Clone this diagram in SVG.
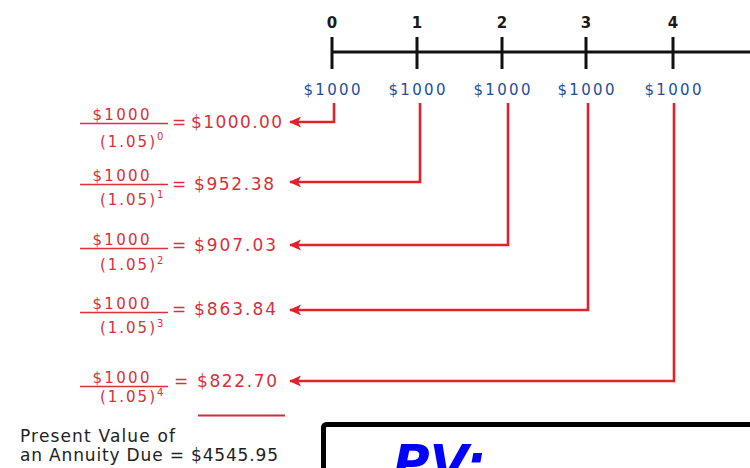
<svg xmlns="http://www.w3.org/2000/svg" width="750" height="468" viewBox="0 0 750 468">
<defs>
<marker id="ah" markerWidth="12" markerHeight="12" refX="11" refY="6" orient="auto" markerUnits="userSpaceOnUse" viewBox="0 0 12 12">
<path d="M12,6 L0,0.5 L3,6 L0,11.5 Z" fill="#e3212b"/>
</marker>
<style>
text{font-family:"DejaVu Sans","Verdana",sans-serif}
.tl{font-size:15px;font-weight:bold;fill:#1a1a1a;text-anchor:middle}
.amt{font-size:15px;fill:#1f4e9c;text-anchor:middle}
.red{fill:#d9303a}
.num{font-size:15px;text-anchor:middle}
.den{font-size:15px}
.sup{font-size:10px}
.val{font-size:17px}
.blk{font-size:17px;fill:#222}
.bar{stroke:#d9303a;stroke-width:1.3}
.conn{fill:none;stroke:#e3212b;stroke-width:2.6;marker-end:url(#ah)}
</style>
</defs>
<rect width="750" height="468" fill="#ffffff"/>
<g id="timeline">
<line x1="331" y1="52" x2="750" y2="52" stroke="#111" stroke-width="3"/>
<g stroke="#111" stroke-width="3">
<line x1="332" y1="37" x2="332" y2="69"/>
<line x1="417" y1="37" x2="417" y2="69"/>
<line x1="502" y1="37" x2="502" y2="69"/>
<line x1="586" y1="37" x2="586" y2="69"/>
<line x1="673" y1="37" x2="673" y2="69"/>
</g>
<text class="tl" x="332" y="28">0</text>
<text class="tl" x="417" y="28">1</text>
<text class="tl" x="502" y="28">2</text>
<text class="tl" x="586" y="28">3</text>
<text class="tl" x="673" y="28">4</text>
<text class="amt" x="332" y="95" textLength="57">$1000</text>
<text class="amt" x="417" y="95" textLength="57">$1000</text>
<text class="amt" x="502" y="95" textLength="57">$1000</text>
<text class="amt" x="586" y="95" textLength="57">$1000</text>
<text class="amt" x="673" y="95" textLength="57">$1000</text>
</g>
<g id="connectors">
<path class="conn" d="M334,103 V122 H290"/>
<path class="conn" d="M420,103 V182 H290"/>
<path class="conn" d="M508,103 V245 H290"/>
<path class="conn" d="M588,103 V310 H290"/>
<path class="conn" d="M674,103 V381 H290"/>
</g>
<g id="row0">
<text class="num red" x="121" y="120" textLength="57">$1000</text>
<line class="bar" x1="80" y1="123.5" x2="168" y2="123.5"/>
<text class="den red" x="100" y="147" textLength="55">(1.05)</text>
<text class="sup red" x="157" y="140">0</text>
<text class="val red" x="172" y="128">=</text>
<text class="val red" x="191" y="128" textLength="91">$1000.00</text>
</g>
<g id="row1">
<text class="num red" x="121" y="181" textLength="57">$1000</text>
<line class="bar" x1="80" y1="184.5" x2="168" y2="184.5"/>
<text class="den red" x="100" y="205" textLength="55">(1.05)</text>
<text class="sup red" x="157" y="198">1</text>
<text class="val red" x="172" y="190">=</text>
<text class="val red" x="194" y="190" textLength="80">$952.38</text>
</g>
<g id="row2">
<text class="num red" x="121" y="245" textLength="57">$1000</text>
<line class="bar" x1="80" y1="248.5" x2="168" y2="248.5"/>
<text class="den red" x="100" y="270" textLength="55">(1.05)</text>
<text class="sup red" x="157" y="264">2</text>
<text class="val red" x="172" y="251">=</text>
<text class="val red" x="194" y="251" textLength="82">$907.03</text>
</g>
<g id="row3">
<text class="num red" x="121" y="309" textLength="57">$1000</text>
<line class="bar" x1="80" y1="312.5" x2="168" y2="312.5"/>
<text class="den red" x="100" y="333" textLength="55">(1.05)</text>
<text class="sup red" x="157" y="327">3</text>
<text class="val red" x="172" y="315">=</text>
<text class="val red" x="194" y="315" textLength="82">$863.84</text>
</g>
<g id="row4">
<text class="num red" x="121" y="383" textLength="57">$1000</text>
<line class="bar" x1="80" y1="386.5" x2="168" y2="386.5"/>
<text class="den red" x="100" y="402" textLength="55">(1.05)</text>
<text class="sup red" x="157" y="396">4</text>
<text class="val red" x="174" y="387">=</text>
<text class="val red" x="197" y="387" textLength="80">$822.70</text>
<line x1="198" y1="415.5" x2="285" y2="415.5" stroke="#c9303a" stroke-width="2.2"/>
</g>
<g id="total">
<text class="blk" x="20" y="442" textLength="155">Present Value of</text>
<text class="blk" x="20" y="461" textLength="258">an Annuity Due = $4545.95</text>
</g>
<g id="pvbox">
<rect x="323.5" y="424.5" width="450" height="80" rx="3" fill="#ffffff" stroke="#000" stroke-width="5"/>
<text x="393" y="480" font-family="Liberation Serif, serif" font-style="italic" font-weight="bold" font-size="50" fill="#0000ff">PV:</text>
</g>
</svg>
